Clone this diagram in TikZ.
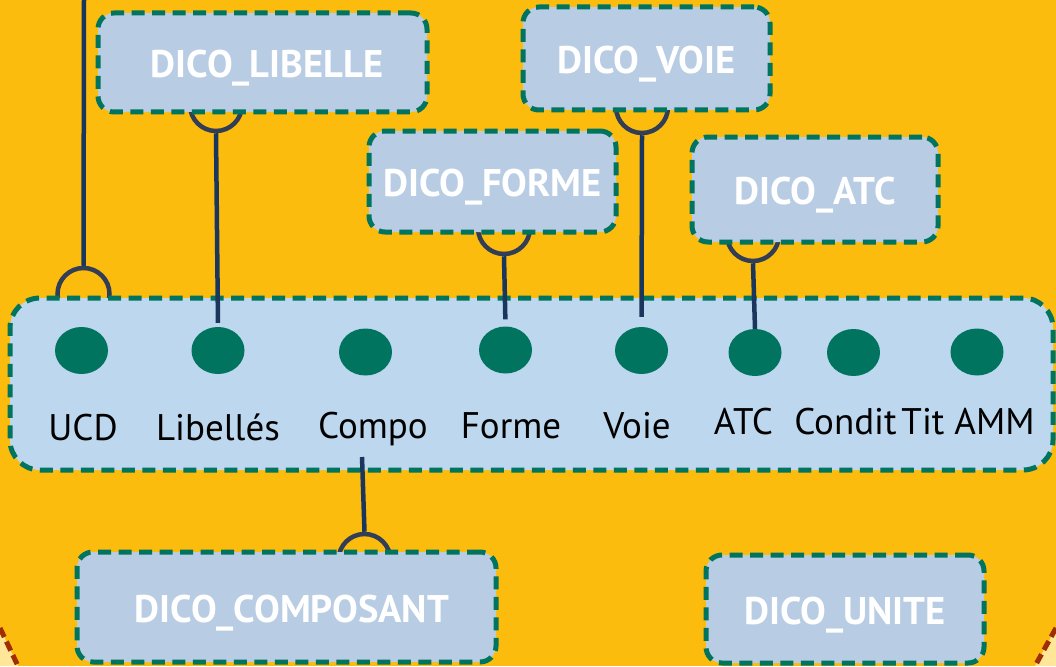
\documentclass[tikz,border=0pt]{standalone}
\usepackage{fontspec}
\setmainfont{PT Sans}
\usetikzlibrary{shapes.geometric}
\definecolor{bgorange}{RGB}{251,188,14}
\definecolor{paleyellow}{RGB}{255,230,153}
\definecolor{rimbrown}{RGB}{160,46,4}
\definecolor{boxblue}{RGB}{184,204,228}
\definecolor{mainblue}{RGB}{189,215,238}
\definecolor{dgreen}{RGB}{0,116,95}
\definecolor{sockgrey}{RGB}{50,62,85}
\definecolor{linknavy}{RGB}{27,54,93}
\tikzset{
  dicobox/.style={draw=dgreen, fill=boxblue, line width=5pt, dash pattern=on 13pt off 7.5pt,
    rounded corners=16pt, inner sep=0pt, font=\fontsize{38.5}{42}\selectfont\bfseries,
    text=white, text height=34pt, text depth=4pt},
  mainbox/.style={draw=dgreen, fill=mainblue, line width=5pt, dash pattern=on 13pt off 7.5pt,
    rounded corners=30pt, inner sep=0pt},
  socket/.style={circle, draw=sockgrey, line width=4.5pt, minimum size=52pt, inner sep=0pt},
  attr/.style={ellipse, fill=dgreen, minimum width=53pt, minimum height=47pt, inner sep=0pt},
  attrlabel/.style={anchor=base, inner sep=0pt, font=\fontsize{37}{42}\selectfont, text=black},
  link/.style={draw=linknavy, line width=4.5pt},
  rim/.style={draw=rimbrown, line width=5pt, dash pattern=on 10pt off 5pt}
}
\begin{document}
\begin{tikzpicture}[x=1pt, y=-1pt]
\useasboundingbox (0,0) rectangle (1056,666);
% background
\fill[bgorange] (0,0) rectangle (1056,666);
\fill[paleyellow] (0,628) -- (18,666) -- (0,666) -- cycle;
\fill[paleyellow] (1056,628) -- (1035,666) -- (1056,666) -- cycle;
\draw[rim] (0,628) -- (18,666);
\draw[rim] (1056,628) -- (1035,666);
% sockets (drawn under the boxes)
\node[socket] (sUCD) at (83.5,294) {};
\node[socket] (sLIB) at (216,105) {};
\node[socket] (sVOIE) at (642,107) {};
\node[socket] (sFORME) at (504,228) {};
\node[socket] (sATC) at (753,235) {};
\node[socket] (sCOMP) at (364.5,560) {};
% boxes
\node[dicobox, minimum width=329pt, minimum height=99pt] (LIB) at (262.5,62.5) {\hspace*{9pt}DICO\_LIBELLE};
\node[dicobox, minimum width=247pt, minimum height=103pt] (VOIE) at (646.5,58.5) {DICO\_VOIE};
\node[dicobox, minimum width=247pt, minimum height=101pt] (FORME) at (492.5,181.5) {DICO\_FORME};
\node[dicobox, minimum width=246pt, minimum height=105pt] (ATC) at (815,189.5) {DICO\_ATC};
\node[dicobox, minimum width=419pt, minimum height=110pt] (COMP) at (286.5,607) {\hspace*{11pt}DICO\_COMPOSANT};
\node[dicobox, minimum width=278pt, minimum height=108pt] (UNITE) at (845,609) {DICO\_UNITE};
\node[mainbox, minimum width=1043pt, minimum height=172pt] (MAIN) at (531.5,384) {};
% attribute dots
\node[attr] (dUCD) at (81.5,350.5) {};
\node[attr] (dLIB) at (218,350.5) {};
\node[attr] (dCOMPO) at (365.5,352) {};
\node[attr] (dFORME) at (505.5,350) {};
\node[attr] (dVOIE) at (641.5,350.5) {};
\node[attr] (dATC) at (755,352.5) {};
\node[attr] (dCOND) at (853.5,352.5) {};
\node[attr] (dTIT) at (977,352) {};
% labels
\node[attrlabel] (lUCD) at (83,440) {UCD};
\node[attrlabel] (lLIB) at (218,440) {Libellés};
\node[attrlabel] (lCOMPO) at (373,438) {Compo};
\node[attrlabel] (lFORME) at (511,438) {Forme};
\node[attrlabel] (lVOIE) at (637,438) {Voie};
\node[attrlabel] (lATC) at (743.5,434) {ATC};
\node[attrlabel] (lCOND) at (845.5,434) {Condit};
\node[attrlabel] (lTIT) at (968,434) {Tit AMM};
% connectors
\coordinate (topUCD) at (84,0);
\coordinate (cCOMPO) at (362,457);
\draw[link] (topUCD) -- (sUCD.north);
\draw[link, shorten >=4pt] (sLIB.south) -- (dLIB.north);
\draw[link, shorten >=10pt] (sVOIE.south) -- (dVOIE.north);
\draw[link, shorten >=7pt] (sFORME.south) -- (dFORME.north);
\draw[link] (sATC.south) -- (dATC.north);
\draw[link] (cCOMPO) -- (sCOMP.north);
\end{tikzpicture}
\end{document}
